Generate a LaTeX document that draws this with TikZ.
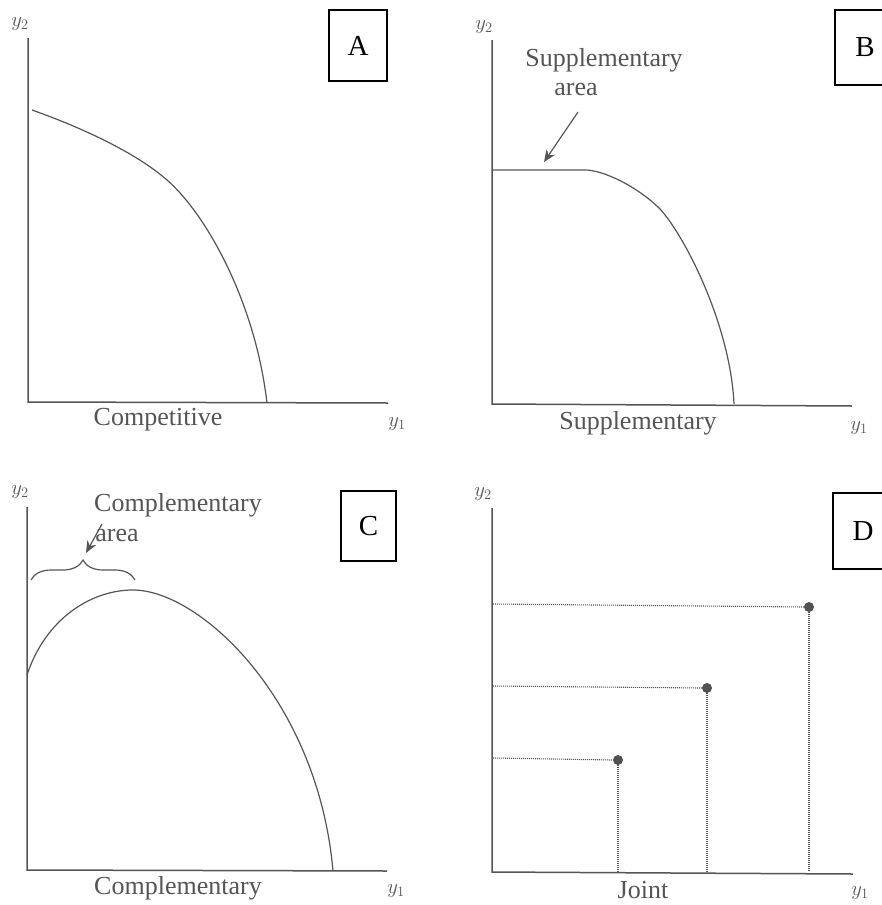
\documentclass[tikz,border=0pt]{standalone}
\usepackage{fontspec}
\setmainfont{Liberation Serif}
\newfontfamily\boxfont{Liberation Serif}
\usetikzlibrary{decorations.pathreplacing,arrows.meta}
\definecolor{ink}{HTML}{555555}
\begin{document}
\begin{tikzpicture}[x=1pt,y=-1pt,
  axisline/.style={draw=ink, line width=1.5pt},
  curveline/.style={draw=ink, line width=1.2pt},
  dotline/.style={draw=ink, line width=1.1pt, dash pattern=on 1pt off 1pt},
  lbl/.style={text=ink, font=\fontsize{26}{30}\selectfont, inner sep=0pt},
  axlbl/.style={text=ink, font=\fontsize{21}{24}\selectfont, inner sep=0pt},
  tagbox/.style={draw=black, line width=1.3pt, font=\boxfont\fontsize{29}{32}\selectfont, inner sep=0pt},
  pointer/.style={draw=ink, line width=1.2pt, -{Stealth[length=12pt,width=10pt]}},
  dotmark/.style={circle, fill=ink!95!black, inner sep=0pt, minimum size=10pt}
]
\useasboundingbox (0,0) rectangle (882,905);
\clip (0,0) rectangle (882,905);
\fill[white] (0,0) rectangle (882,905);

% ---------- Panel A ----------
\coordinate (Atop) at (28,38);
\coordinate (Aorig) at (28,402);
\coordinate (Aend) at (388,403);
\draw[axisline] (Atop) -- (Aorig) -- (Aend);
\node[axlbl] (Ay2) at (20,24) {$y_2$};
\node[axlbl] (Ay1) at (397,424) {$y_1$};
\node[lbl] (Alab) at (158,420) {Competitive};
\node[tagbox, minimum width=58pt, minimum height=71pt] (Atag) at (358,45.5) {A};
\draw[curveline] (32,110) .. controls (80,127) and (135,152) .. (167,180)
                 .. controls (205,213) and (255,300) .. (267,403);

% ---------- Panel B ----------
\coordinate (Btop) at (492,40);
\coordinate (Borig) at (492,404);
\coordinate (Bend) at (852,406);
\draw[axisline] (Btop) -- (Borig) -- (Bend);
\node[axlbl] (By2) at (484,27) {$y_2$};
\node[axlbl] (By1) at (859,428) {$y_1$};
\node[lbl] (Blab) at (638,423) {Supplementary};
\node[lbl] (Bsup) at (604,60) {Supplementary};
\node[lbl] (Barea) at (576,89) {area};
\node[tagbox, minimum width=60pt, minimum height=75pt] (Btag) at (865,47.5) {B};
\draw[curveline] (492,170) -- (585,170)
                 .. controls (603,170) and (636,186) .. (658,207)
                 .. controls (680,228) and (730,320) .. (734,404);
\coordinate (Bfrom) at (578,112);
\coordinate (Bto) at (544,162);
\draw[pointer] (Bfrom) -- (Bto);

% ---------- Panel C ----------
\coordinate (Ctop) at (27,507);
\coordinate (Corig) at (27,870);
\coordinate (Cend) at (387,871);
\draw[axisline] (Ctop) -- (Corig) -- (Cend);
\node[axlbl] (Cy2) at (20,492) {$y_2$};
\node[axlbl] (Cy1) at (396,891) {$y_1$};
\node[lbl] (Clab) at (178,888) {Complementary};
\node[lbl] (Ccomp) at (178,505) {Complementary};
\node[lbl] (Carea) at (117,535) {area};
\node[tagbox, minimum width=55pt, minimum height=70pt] (Ctag) at (368.5,526) {C};
\draw[curveline] (27,675) .. controls (45,620) and (90,590) .. (133,590)
                 .. controls (200,590) and (318,700) .. (333,871);
\coordinate (Cbl) at (31,580);
\coordinate (Cbr) at (135,580);
\draw[ink, line width=1.2pt, decorate, decoration={brace, amplitude=20pt}] (Cbl) -- (Cbr);
\coordinate (Cfrom) at (102,524);
\coordinate (Cto) at (86,553);
\draw[pointer] (Cfrom) -- (Cto);

% ---------- Panel D ----------
\coordinate (Dtop) at (492,508);
\coordinate (Dorig) at (492,872);
\coordinate (Dend) at (853,874);
\draw[axisline] (Dtop) -- (Dorig) -- (Dend);
\node[axlbl] (Dy2) at (483,494) {$y_2$};
\node[axlbl] (Dy1) at (860,893) {$y_1$};
\node[lbl] (Dlab) at (643,890) {Joint};
\node[tagbox, minimum width=60pt, minimum height=76pt] (Dtag) at (863,531) {D};
\node[dotmark] (P3) at (809,607) {};
\node[dotmark] (P2) at (707,688) {};
\node[dotmark] (P1) at (618,760) {};
\coordinate (P3l) at (493,604);
\coordinate (P2l) at (493,686);
\coordinate (P1l) at (493,758);
\coordinate (P3b) at (809,872);
\coordinate (P2b) at (707,872);
\coordinate (P1b) at (618,872);
\draw[dotline] (P3l) -- (P3.west);
\draw[dotline] (P2l) -- (P2.west);
\draw[dotline] (P1l) -- (P1.west);
\draw[dotline] (P3.south) -- (P3b);
\draw[dotline] (P2.south) -- (P2b);
\draw[dotline] (P1.south) -- (P1b);
\end{tikzpicture}
\end{document}
